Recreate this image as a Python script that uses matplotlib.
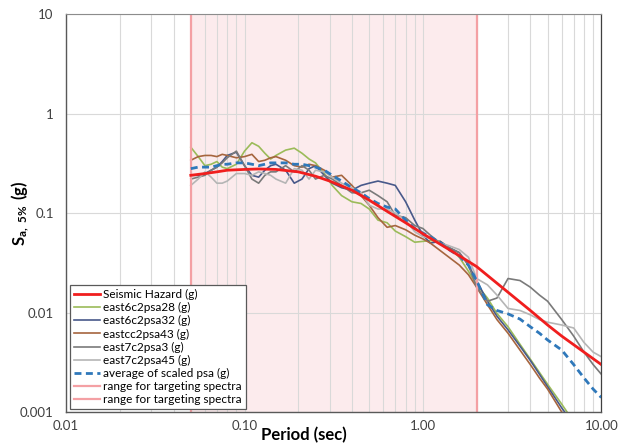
import numpy as np
import matplotlib
matplotlib.use("Agg")
import matplotlib.pyplot as plt
from matplotlib.ticker import FixedLocator, FixedFormatter, LogLocator, NullFormatter

plt.rcParams['font.family'] = ['Lato', 'DejaVu Sans']
plt.rcParams['mathtext.fontset'] = 'custom'
plt.rcParams['mathtext.rm'] = 'Lato'
plt.rcParams['mathtext.bf'] = 'Lato:bold'

# periods (sec) for the record spectra
period = [0.05, 0.055, 0.06, 0.065, 0.07, 0.075, 0.08, 0.09, 0.10, 0.11,
          0.12, 0.13, 0.14, 0.15, 0.17, 0.19, 0.21, 0.23, 0.25, 0.28,
          0.31, 0.35, 0.40, 0.45, 0.50, 0.56, 0.63, 0.70, 0.80, 0.90,
          1.0, 1.1, 1.25, 1.4, 1.6, 1.8, 2.0, 2.3, 2.6, 3.0,
          3.5, 4.0, 4.5, 5.0, 6.0, 7.0, 8.0, 9.0, 10.0]

psa28 = [0.46, 0.37, 0.30, 0.31, 0.33, 0.29, 0.28, 0.31, 0.42, 0.51,
         0.47, 0.40, 0.35, 0.38, 0.43, 0.45, 0.40, 0.35, 0.32, 0.25,
         0.19, 0.15, 0.13, 0.125, 0.11, 0.085, 0.08, 0.066, 0.058, 0.051,
         0.052, 0.053, 0.052, 0.045, 0.036, 0.026, 0.019, 0.014, 0.0098, 0.0072,
         0.0048, 0.0034, 0.0025, 0.0019, 0.0012, 0.0008, 0.0005, 0.00035, 0.00025]

psa32 = [0.24, 0.24, 0.25, 0.27, 0.29, 0.33, 0.38, 0.41, 0.30, 0.24,
         0.23, 0.27, 0.30, 0.31, 0.27, 0.20, 0.22, 0.28, 0.30, 0.24,
         0.20, 0.18, 0.17, 0.19, 0.20, 0.21, 0.20, 0.19, 0.13, 0.085,
         0.06, 0.05, 0.052, 0.045, 0.040, 0.030, 0.021, 0.013, 0.0092, 0.0067,
         0.0046, 0.0033, 0.0024, 0.0018, 0.0011, 0.00075, 0.0005, 0.00033, 0.00023]

psa43 = [0.34, 0.37, 0.38, 0.38, 0.37, 0.39, 0.38, 0.36, 0.37, 0.39,
         0.33, 0.34, 0.36, 0.37, 0.34, 0.30, 0.29, 0.31, 0.30, 0.27,
         0.23, 0.24, 0.19, 0.15, 0.12, 0.09, 0.072, 0.075, 0.068, 0.06,
         0.055, 0.05, 0.042, 0.036, 0.030, 0.024, 0.018, 0.012, 0.0085, 0.0062,
         0.0042, 0.003, 0.0022, 0.0017, 0.0010, 0.0007, 0.00045, 0.0003, 0.0002]

psa3 = [0.22, 0.23, 0.24, 0.27, 0.29, 0.32, 0.36, 0.42, 0.30, 0.22,
        0.20, 0.24, 0.26, 0.26, 0.30, 0.26, 0.30, 0.27, 0.22, 0.24,
        0.22, 0.19, 0.16, 0.16, 0.17, 0.15, 0.13, 0.095, 0.09, 0.075,
        0.07, 0.06, 0.05, 0.045, 0.040, 0.030, 0.018, 0.013, 0.014, 0.022,
        0.021, 0.018, 0.015, 0.013, 0.0085, 0.0058, 0.0040, 0.0030, 0.0024]

psa45 = [0.19, 0.22, 0.26, 0.23, 0.20, 0.20, 0.21, 0.25, 0.25, 0.24,
         0.26, 0.25, 0.24, 0.22, 0.20, 0.28, 0.27, 0.22, 0.27, 0.26,
         0.23, 0.20, 0.18, 0.16, 0.12, 0.11, 0.11, 0.10, 0.085, 0.065,
         0.058, 0.056, 0.050, 0.047, 0.043, 0.036, 0.022, 0.019, 0.015, 0.011,
         0.0105, 0.0095, 0.0085, 0.008, 0.0075, 0.0070, 0.0050, 0.0040, 0.0036]

avg_psa = [0.28, 0.29, 0.29, 0.29, 0.30, 0.31, 0.31, 0.32, 0.32, 0.31,
           0.30, 0.31, 0.32, 0.32, 0.32, 0.31, 0.31, 0.30, 0.29, 0.27,
           0.24, 0.21, 0.18, 0.16, 0.14, 0.125, 0.115, 0.11, 0.085, 0.07,
           0.063, 0.058, 0.05, 0.043, 0.037, 0.030, 0.021, 0.012, 0.0105, 0.0097,
           0.0086, 0.0072, 0.0062, 0.0053, 0.0042, 0.0030, 0.0022, 0.0017, 0.0014]

# target (seismic hazard) spectrum
haz_T = [0.05, 0.06, 0.07, 0.08, 0.10, 0.12, 0.15, 0.20, 0.25, 0.30,
         0.40, 0.50, 0.60, 0.80, 1.0, 1.5, 2.0, 3.0, 4.0, 5.0, 6.0, 8.0, 10.0]
haz_Sa = [0.24, 0.25, 0.26, 0.27, 0.275, 0.278, 0.275, 0.26, 0.235, 0.21,
          0.17, 0.135, 0.11, 0.08, 0.062, 0.04, 0.029, 0.016, 0.0105, 0.0075,
          0.0058, 0.0040, 0.0030]

t_range = [0.05, 2.0]
y_range = [0.001, 10]

fig = plt.figure(figsize=(6.18, 4.44), dpi=100)
ax = fig.add_axes([0.107, 0.072, 0.866, 0.896])

ax.axvspan(t_range[0], t_range[1], color='#F9CDD2', alpha=0.4, lw=0, zorder=0)

ax.plot(haz_T, haz_Sa, color='#F01E1E', lw=2.0, label='Seismic Hazard (g)', zorder=5)
ax.plot(period, psa28, color='#9BBB59', lw=1.2, label='east6c2psa28 (g)')
ax.plot(period, psa32, color='#48598A', lw=1.2, label='east6c2psa32 (g)')
ax.plot(period, psa43, color='#A6653E', lw=1.2, label='eastcc2psa43 (g)')
ax.plot(period, psa3, color='#7A7A7A', lw=1.2, label='east7c2psa3 (g)')
ax.plot(period, psa45, color='#B5B5B5', lw=1.2, label='east7c2psa45 (g)')
ax.plot(period, avg_psa, color='#2F78BA', lw=2.0, ls=(0, (2.5, 1.6)),
        label='average of scaled psa (g)', zorder=4)
ax.plot([t_range[0]] * 2, y_range, color='#F4A0A4', lw=1.6,
        label='range for targeting spectra')
ax.plot([t_range[1]] * 2, y_range, color='#F4A0A4', lw=1.6,
        label='range for targeting spectra')

ax.set_xscale('log')
ax.set_yscale('log')
ax.set_xlim(0.01, 10)
ax.set_ylim(0.001, 10)

ax.xaxis.set_major_locator(FixedLocator([0.01, 0.1, 1, 10]))
ax.xaxis.set_major_formatter(FixedFormatter(['0.01', '0.10', '1.00', '10.00']))
ax.xaxis.set_minor_locator(LogLocator(base=10, subs=np.arange(2, 10)))
ax.xaxis.set_minor_formatter(NullFormatter())
ax.yaxis.set_major_locator(FixedLocator([0.001, 0.01, 0.1, 1, 10]))
ax.yaxis.set_major_formatter(FixedFormatter(['0.001', '0.01', '0.1', '1', '10']))
ax.yaxis.set_minor_locator(FixedLocator([]))

ax.grid(True, which='major', color='#D9D9D9', lw=0.8)
ax.grid(True, which='minor', axis='x', color='#D9D9D9', lw=0.8)
ax.tick_params(which='both', length=0, labelsize=9.5, labelcolor='#404040')
ax.tick_params(axis='y', pad=9)
ax.tick_params(axis='x', pad=6)

for side in ['left', 'bottom']:
    ax.spines[side].set_color('#595959')
    ax.spines[side].set_linewidth(1.0)
ax.spines['top'].set_color('#8C8C8C')
ax.spines['top'].set_linewidth(0.8)
ax.spines['right'].set_color('#404040')
ax.spines['right'].set_linewidth(0.9)

ax.set_xlabel('Period (sec)', fontsize=12, fontweight='bold', va='center')
ax.xaxis.set_label_coords(0.445, -0.057)
ax.set_ylabel(r'$\mathbf{S_{a,\ 5\%}\ (g)}$', fontsize=12)
ax.yaxis.set_label_coords(-0.066, 0.5)

leg = ax.legend(loc='lower left', bbox_to_anchor=(0.008, 0.008), fontsize=8.5,
                frameon=True, fancybox=False, framealpha=1, edgecolor='#595959',
                handlelength=2.2, labelspacing=0.18, borderpad=0.3,
                handletextpad=0.3, borderaxespad=0)
leg.get_frame().set_linewidth(0.9)

fig.savefig('out.png', dpi=100)
